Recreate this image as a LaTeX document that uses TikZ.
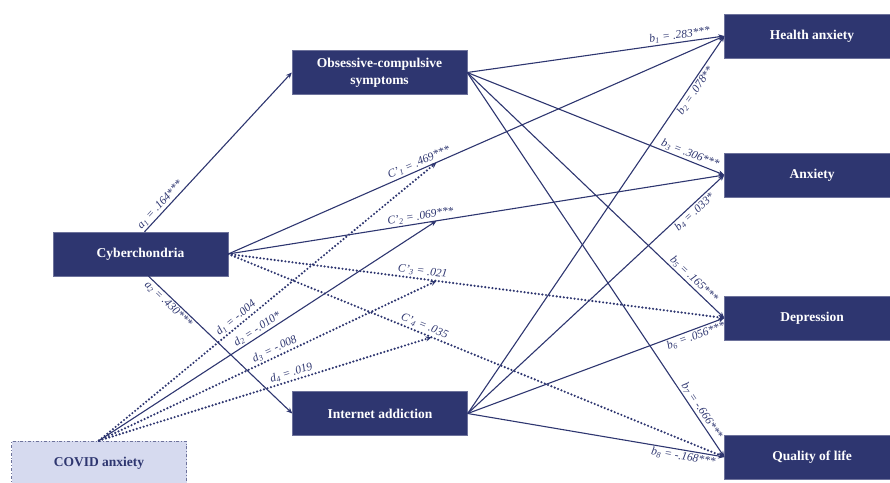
\documentclass[tikz,border=0pt]{standalone}
\usepackage{fontspec}
\setmainfont{Liberation Serif}
\usepackage{xcolor}
\usepackage{tikz}
\usetikzlibrary{arrows.meta,positioning}
\definecolor{navy}{RGB}{46,54,112}
\definecolor{lilac}{RGB}{214,218,239}

\begin{document}
\begin{tikzpicture}[
  x=1pt, y=-1pt,
  box/.style={draw=navy!70, fill=navy, text=white, align=center, font=\fontsize{13.5}{17}\selectfont\bfseries, minimum width=175pt, minimum height=44pt, inner sep=2pt},
  covidbox/.style={box, draw=navy!70, line width=0.8pt, dash dot, fill=lilac, text=navy},
  link/.style={navy, line width=1.1pt, -{Stealth[length=6pt, width=5pt]}},
  weak/.style={link, line width=2.4pt, line cap=round, dash pattern=on 0pt off 3.6pt},
  coef/.style={font=\fontsize{11.5}{13}\selectfont\itshape, text=navy, sloped, inner sep=1.5pt}
]
  \useasboundingbox (0,0) rectangle (890,482);

  \node[box] (cyber) at (140.5,254) {Cyberchondria};
  \node[covidbox] (covid) at (99,463) {COVID anxiety};
  \node[box] (ocs) at (379.5,72.5) {Obsessive-compulsive\\symptoms};
  \node[box] (internet) at (380,413.5) {Internet addiction};
  \node[box] (health) at (812,36) {Health anxiety};
  \node[box] (anx) at (812,175) {Anxiety};
  \node[box] (dep) at (812,318) {Depression};
  \node[box] (qol) at (812,457) {Quality of life};

  \draw[link] ([xshift=4pt]cyber.north) -- node[coef, above, pos=0.14] {a\textsubscript{1} = .164***} (ocs.west);
  \draw[link] ([xshift=8pt]cyber.south) -- node[coef, below, pos=0.17] {a\textsubscript{2} = .430***} (internet.west);

  \draw[link] (cyber.east) -- coordinate[pos=0.42] (m1) node[coef, above, pos=0.39] {C'\textsubscript{1} = .469***} (health.west);
  \draw[link] (cyber.east) -- coordinate[pos=0.42] (m2) node[coef, above, pos=0.39] {C'\textsubscript{2} = .069***} (anx.west);
  \draw[weak] (cyber.east) -- coordinate[pos=0.42] (m3) node[coef, above, pos=0.39] {C'\textsubscript{3} = .021} (dep.west);
  \draw[weak] (cyber.east) -- coordinate[pos=0.41] (m4) node[coef, above, pos=0.39] {C'\textsubscript{4} = .035} (qol.west);

  \draw[weak] (covid.north) -- node[coef, above, pos=0.42] {d\textsubscript{1} = -.004} (m1);
  \draw[link] (covid.north) -- node[coef, above, pos=0.48] {d\textsubscript{2} = -.010*} (m2);
  \draw[weak] (covid.north) -- node[coef, above, pos=0.53] {d\textsubscript{3} = -.008} (m3);
  \draw[weak] (covid.north) -- node[coef, above, pos=0.585] {d\textsubscript{4} = .019} (m4);

  \draw[link] (ocs.east) -- node[coef, above, pos=0.83] {b\textsubscript{1} = .283***} (health.west);
  \draw[link] (internet.east) -- node[coef, below, pos=0.865] {b\textsubscript{2} = .078**} (health.west);
  \draw[link] (ocs.east) -- node[coef, above, pos=0.857] {b\textsubscript{3} = .306***} (anx.west);
  \draw[link] (internet.east) -- node[coef, below, pos=0.866] {b\textsubscript{4} = .033*} (anx.west);
  \draw[link] (ocs.east) -- node[coef, above, pos=0.863] {b\textsubscript{5} = .165***} (dep.west);
  \draw[link] (internet.east) -- node[coef, below, pos=0.88] {b\textsubscript{6} = .056***} (dep.west);
  \draw[link] (ocs.east) -- node[coef, above, pos=0.89] {b\textsubscript{7} = -.666***} (qol.west);
  \draw[link] (internet.east) -- node[coef, below, pos=0.845] {b\textsubscript{8} = -.168***} (qol.west);
\end{tikzpicture}
\end{document}
